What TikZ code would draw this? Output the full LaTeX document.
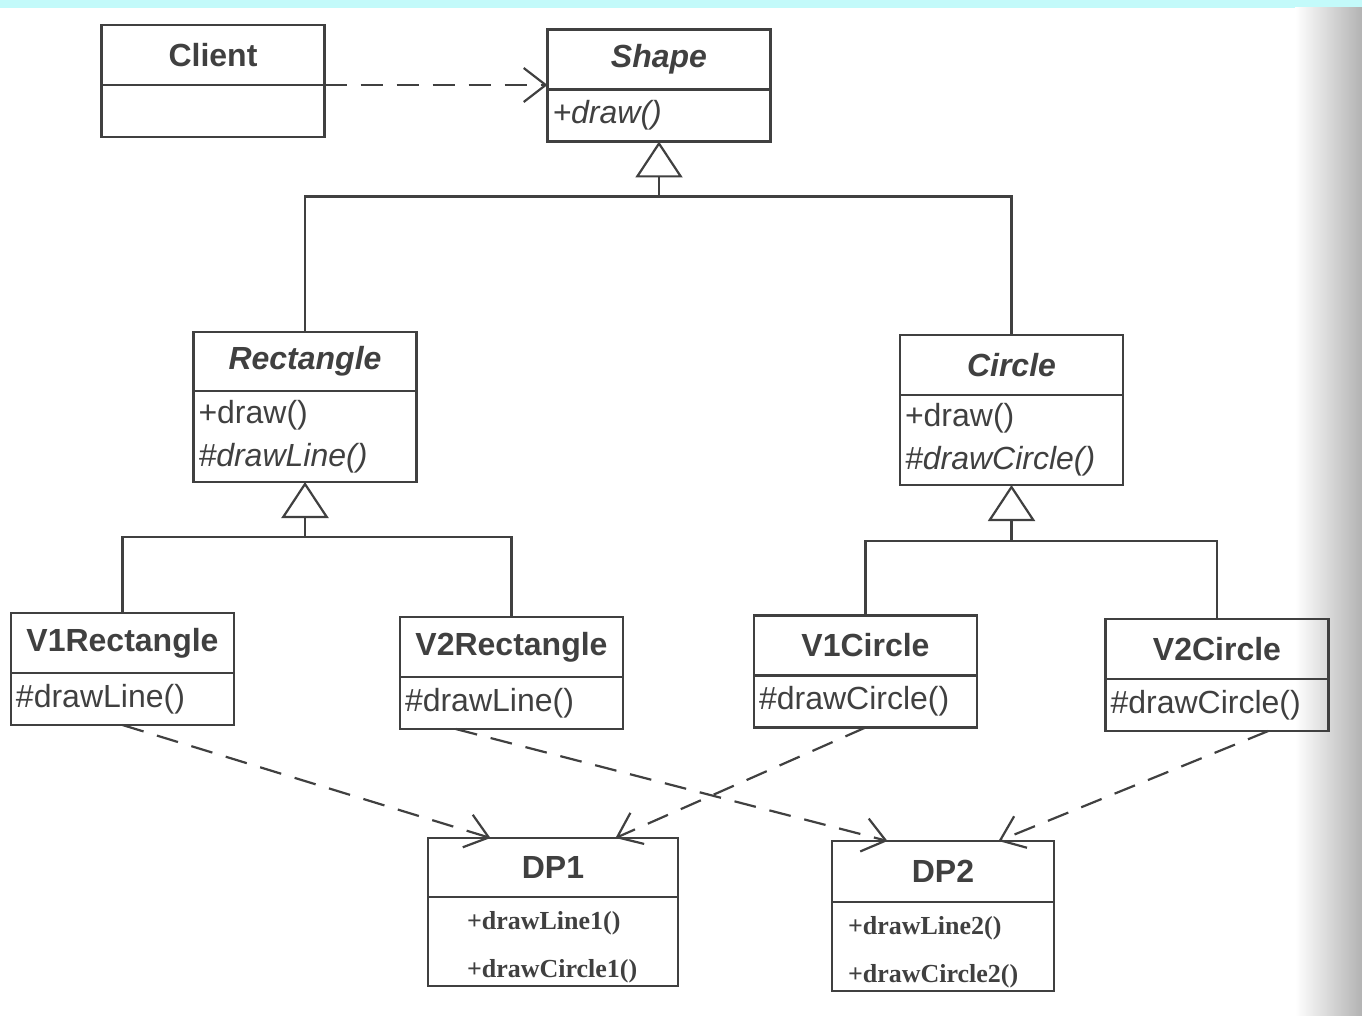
\documentclass[tikz,border=0pt]{standalone}
\usepackage{fontspec}
\setmainfont{Liberation Sans}
\newfontfamily\dpfont{Liberation Serif}
\usetikzlibrary{positioning,arrows.meta,calc}
\definecolor{scanband}{RGB}{195,250,250}

\begin{document}
\begin{tikzpicture}[x=1pt,y=-1pt,line width=2.2pt,color=black!75,
  ctitle/.style={draw,inner sep=0pt,outer sep=0pt,minimum width=223pt,minimum height=60pt,
    font=\fontsize{32}{38}\selectfont\bfseries},
  atitle/.style={ctitle,font=\fontsize{32}{38}\selectfont\bfseries\itshape},
  cbody/.style={draw,outer sep=0pt,inner xsep=5pt,inner ysep=0pt,text width=213pt,
    minimum height=52pt,align=left,font=\fontsize{32}{43}\selectfont},
  dpbody/.style={draw,outer sep=0pt,inner ysep=0pt,minimum height=89pt,align=left,
    font=\fontsize{26}{48}\selectfont\dpfont\bfseries},
  gen/.style={-{Triangle[open,length=36pt,width=47pt,line width=2.2pt]}},
  dep/.style={dash pattern=on 22pt off 14pt,
    -{Straight Barb[length=22pt,width=34pt,line width=2.2pt]}}]
  \useasboundingbox (0,0) rectangle (1362,1016);
  % --- scan background ---
  \fill[scanband] (0,0) rectangle (1362,8);
  \shade[left color=white,right color=black!30,draw=none] (1295,8) rectangle (1362,1016);
  % --- Client and Shape ---
  \node[ctitle] (clientT) at (213,55) {Client};
  \node[cbody,below=0pt of clientT] (clientB) {};
  \node[atitle] (shapeT) at (659,59.5) {Shape};
  \node[cbody,below=0pt of shapeT] (shapeB) {\textit{+draw()}};
  % --- Rectangle and Circle ---
  \node[atitle,minimum height=59pt] (rectT) at (305,361.5) {Rectangle};
  \node[cbody,below=0pt of rectT,minimum height=91pt] (rectB) {+draw()\\\textit{\#drawLine()}};
  \node[atitle] (circT) at (1011.5,365) {Circle};
  \node[cbody,below=0pt of circT,minimum height=90pt] (circB) {+draw()\\\textit{\#drawCircle()}};
  % --- concrete classes ---
  \node[ctitle] (v1rT) at (122.5,643) {V1Rectangle};
  \node[cbody,below=0pt of v1rT] (v1rB) {\#drawLine()};
  \node[ctitle] (v2rT) at (511.5,647) {V2Rectangle};
  \node[cbody,below=0pt of v2rT] (v2rB) {\#drawLine()};
  \node[ctitle] (v1cT) at (865.5,645.5) {V1Circle};
  \node[cbody,below=0pt of v1cT] (v1cB) {\#drawCircle()};
  \node[ctitle] (v2cT) at (1217,649) {V2Circle};
  \node[cbody,below=0pt of v2cT] (v2cB) {\#drawCircle()};
  % --- drawing programs ---
  \node[ctitle,minimum width=250pt,minimum height=59pt] (dp1T) at (553,867.5) {DP1};
  \node[dpbody,below=0pt of dp1T,inner xsep=39pt,text width=172pt] (dp1B) {\rule{0pt}{29pt}+drawLine1()\\+drawCircle1()};
  \node[ctitle,minimum width=222pt,minimum height=61pt] (dp2T) at (943,871.5) {DP2};
  \node[dpbody,below=0pt of dp2T,inner xsep=16pt,text width=190pt] (dp2B) {\rule{0pt}{29pt}+drawLine2()\\+drawCircle2()};
  % --- generalizations ---
  \coordinate (jShape) at ($(shapeB.south)+(0,55)$);
  \draw (rectT.north) |- (jShape) -| (circT.north);
  \draw[gen] (jShape) -- (shapeB.south);
  \coordinate (jRect) at ($(rectB.south)+(0,55)$);
  \draw (v1rT.north) |- (jRect) -| (v2rT.north);
  \draw[gen] (jRect) -- (rectB.south);
  \coordinate (jCirc) at ($(circB.south)+(0,56)$);
  \draw (v1cT.north) |- (jCirc) -| (v2cT.north);
  \draw[gen] (jCirc) -- (circB.south);
  % --- dependencies ---
  \draw[dep] (clientB.north east) -- (clientB.north east -| shapeT.west);
  \draw[dep] (v1rB.south) -- ($(dp1T.north west)!0.25!(dp1T.north east)$);
  \draw[dep] (v1cB.south) -- ($(dp1T.north west)!0.75!(dp1T.north east)$);
  \draw[dep] ($(v2rB.south west)!0.25!(v2rB.south east)$) -- ($(dp2T.north west)!0.25!(dp2T.north east)$);
  \draw[dep] ($(v2cB.south west)!0.73!(v2cB.south east)$) -- ($(dp2T.north west)!0.75!(dp2T.north east)$);
\end{tikzpicture}
\end{document}
